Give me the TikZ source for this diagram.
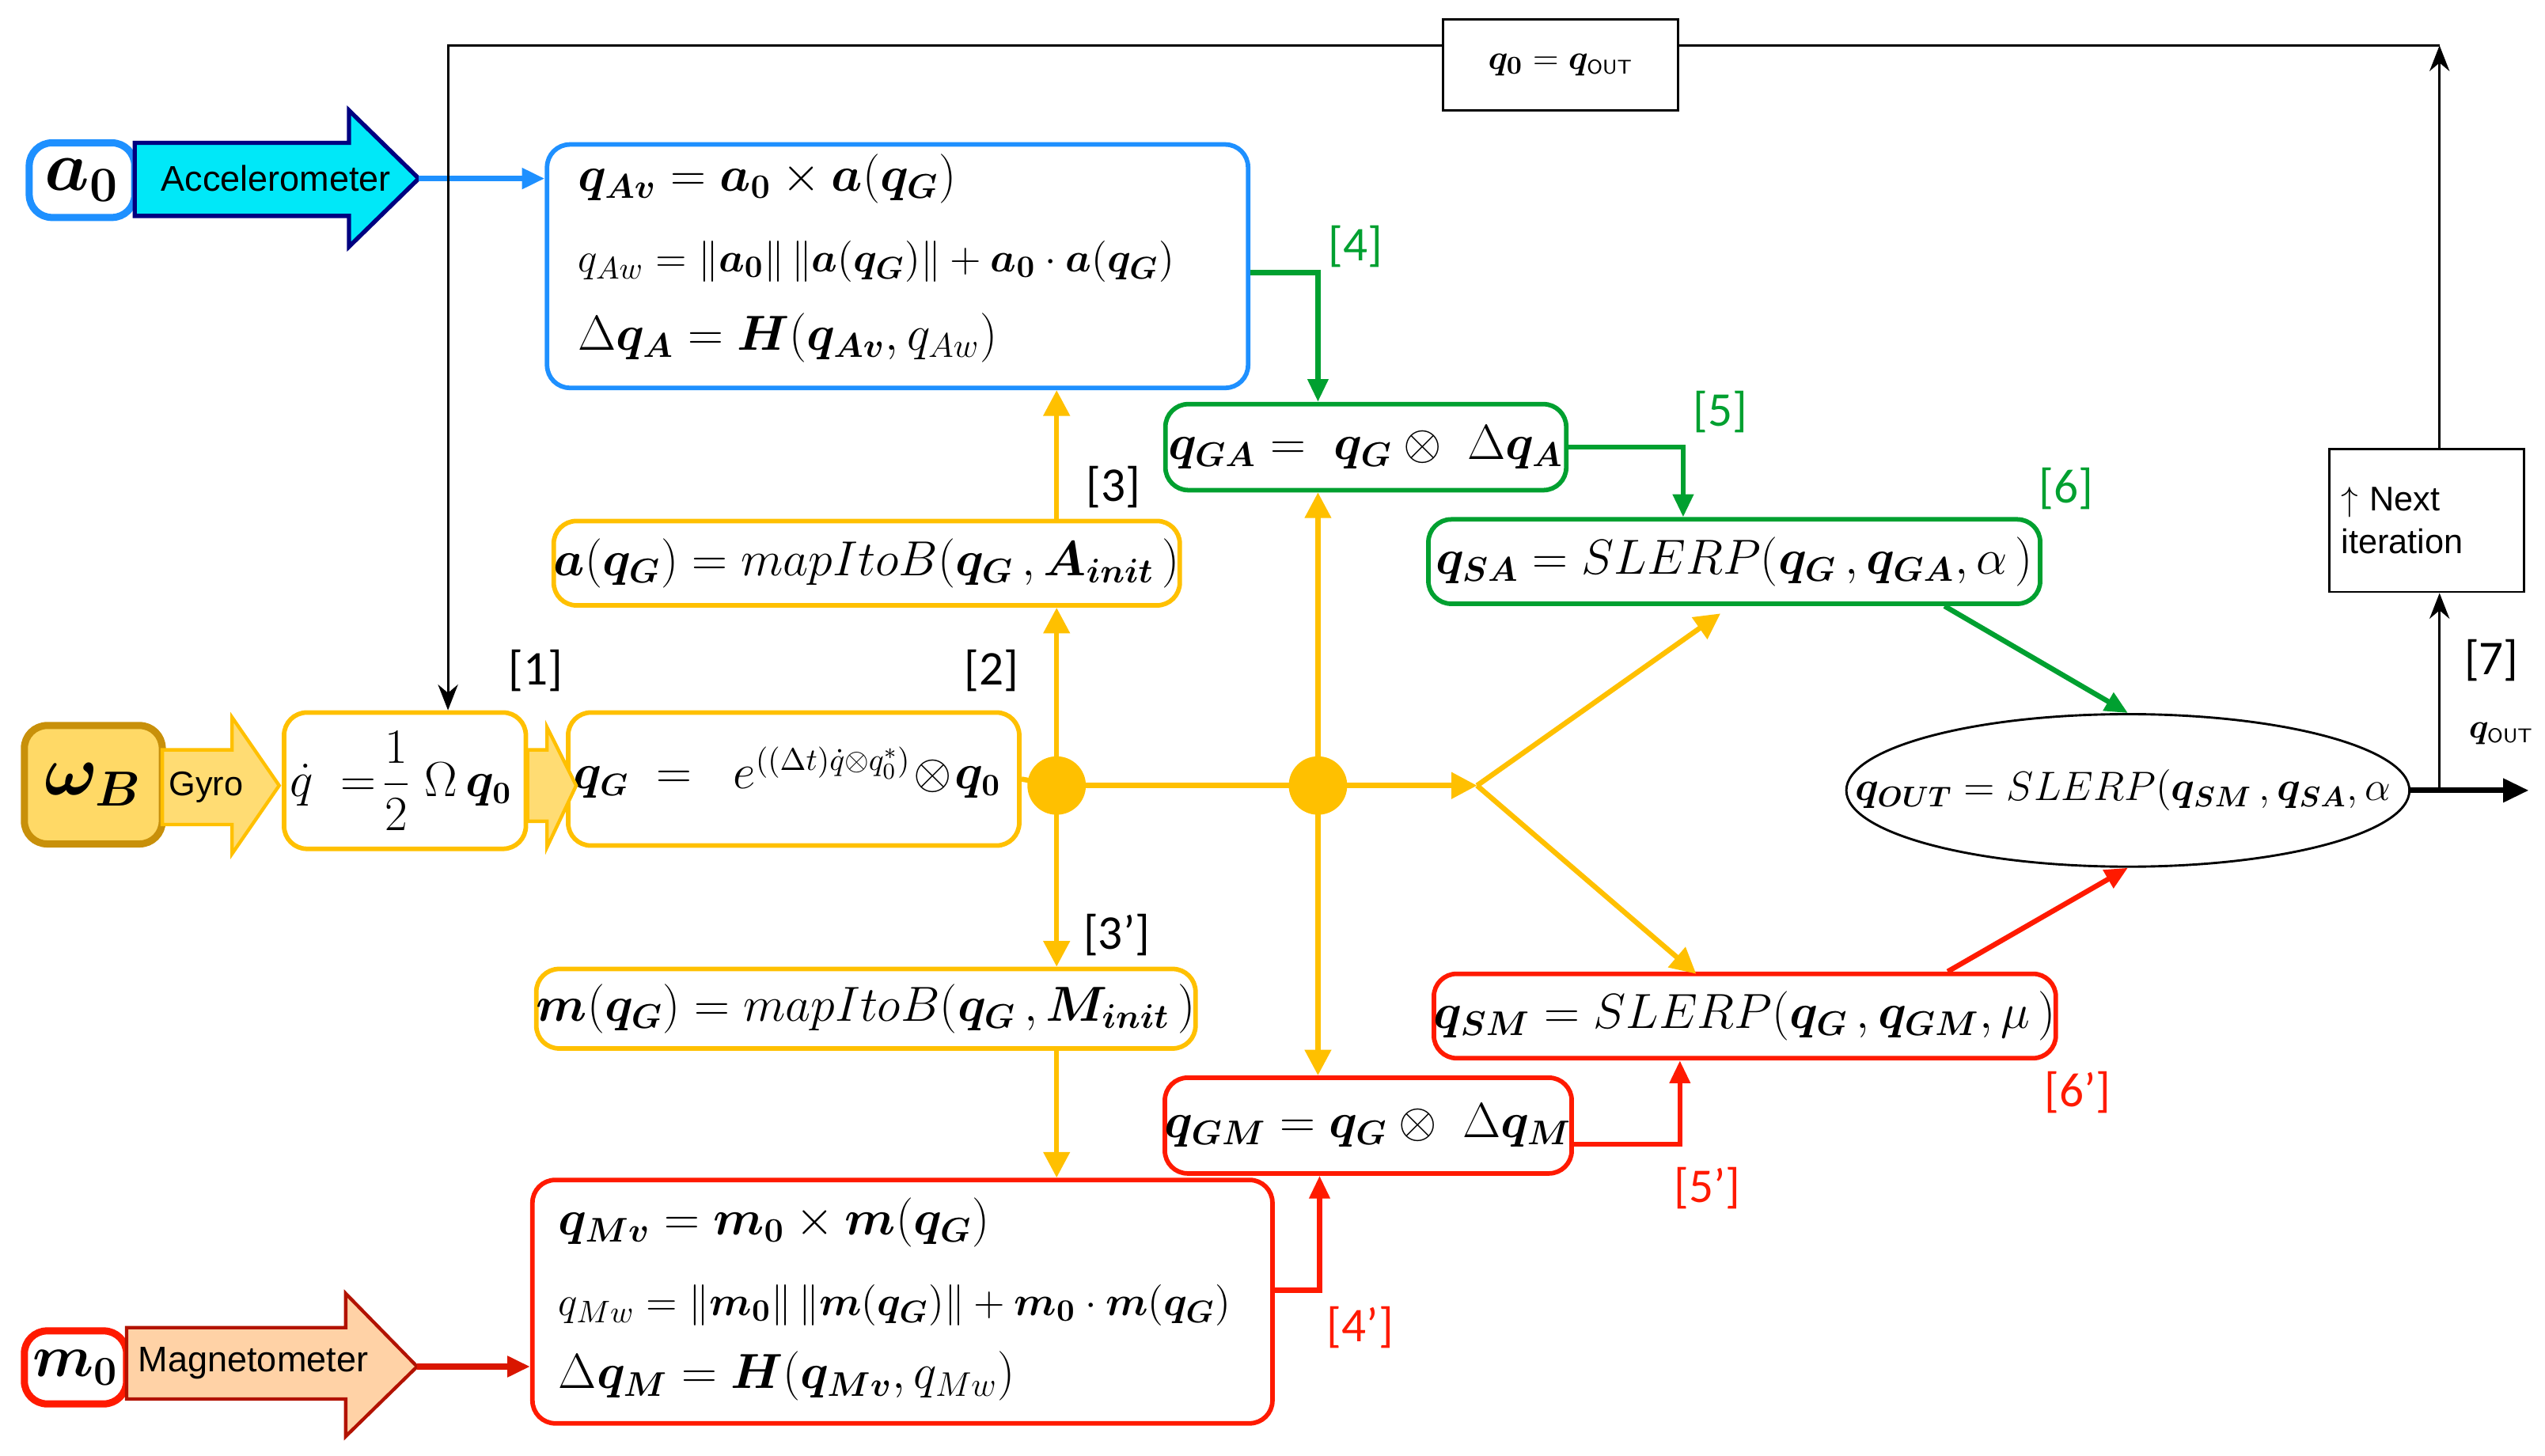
\documentclass[tikz,border=0pt]{standalone}
\usepackage{amsmath,bm}
\usepackage{fontspec}
\newfontfamily\lsans{Liberation Sans}
\newfontfamily\csans{Carlito}
\usetikzlibrary{arrows.meta,shapes.geometric}
\definecolor{cor}{HTML}{FFC000}
\definecolor{cbl}{HTML}{1E90FF}
\definecolor{cgr}{HTML}{00A030}
\definecolor{crd}{HTML}{FF1A00}
\definecolor{cgold}{HTML}{C8900A}
\definecolor{ccy}{HTML}{00E8F8}
\newcommand{\B}[1]{\boldsymbol{#1}}
\begin{document}
\begin{tikzpicture}[x=0.02cm,y=-0.02cm,
  eq/.style={font=\fontsize{17}{20}\selectfont},
  eqs/.style={font=\fontsize{15}{18}\selectfont},
  box/.style={draw,rounded corners=8pt,line width=1.6pt,inner sep=0pt},
  lab/.style={font=\csans\fontsize{17}{20}\selectfont},
  oar/.style={draw=cor,line width=1.8pt,-{Triangle[length=9pt,width=9pt]}},
  gar/.style={draw=cgr,line width=1.8pt,-{Triangle[length=8pt,width=7pt]}},
  rar/.style={draw=crd,line width=1.8pt,-{Triangle[length=8pt,width=7pt]}},
  kar/.style={draw=black,line width=0.8pt,-{Stealth[length=9pt,width=7pt]}}]
\useasboundingbox (0,0) rectangle (1568,897);
% boxes
\node[box,draw=cbl,minimum width=8.64cm,minimum height=3cm] (blue) at (553,164) {};
\node[eq,anchor=west] (b1) at (350,110) {$\B{q_{Av}} = \B{a_0}\times \B{a}(\B{q_G})$};
\node[eqs,anchor=west] (b2) at (350,161) {$q_{Aw} = \lVert \B{a_0}\rVert\,\lVert \B{a}(\B{q_G})\rVert + \B{a_0}\cdot \B{a}(\B{q_G})$};
\node[eq,anchor=west] (b3) at (350,208) {$\Delta\B{q_A} = \B{H}(\B{q_{Av}}, q_{Aw})$};
\node[box,draw=crd,minimum width=9.12cm,minimum height=3cm] (red) at (556,802) {};
\node[eq,anchor=west] (r1) at (338,753) {$\B{q_{Mv}} = \B{m_0}\times \B{m}(\B{q_G})$};
\node[eqs,anchor=west] (r2) at (338,804) {$q_{Mw} = \lVert \B{m_0}\rVert\,\lVert \B{m}(\B{q_G})\rVert + \B{m_0}\cdot \B{m}(\B{q_G})$};
\node[eq,anchor=west] (r3) at (338,848) {$\Delta\B{q_M} = \B{H}(\B{q_{Mv}}, q_{Mw})$};
\node[box,draw=cgr,minimum width=4.94cm,minimum height=1.06cm,eq] (qga) at (841.5,275.5) {$\B{q_{GA}} = \ \B{q_G}\otimes\ \Delta\B{q_A}$};
\node[box,draw=cgr,minimum width=7.54cm,minimum height=1.04cm,eq] (qsa) at (1068.5,346) {$\B{q_{SA}} = SLERP(\B{q_G}\,,\B{q_{GA}},\alpha\,)$};
\node[box,draw=crd,minimum width=7.36cm,minimum height=1.04cm,eq] (qsm) at (1075,626) {$\B{q_{SM}} = SLERP(\B{q_G}\,,\B{q_{GM}},\mu\,)$};
\node[box,draw=crd,minimum width=5cm,minimum height=1.18cm,eq] (qgm) at (843,693.5) {$\B{q_{GM}} = \B{q_G}\otimes\ \Delta\B{q_M}$};
\node[box,draw=cor,minimum width=7.56cm,minimum height=1.04cm,eq] (aqg) at (534,347) {$\B{a}(\B{q_G}) = mapItoB(\B{q_G}\,,\B{A_{init}}\,)$};
\node[box,draw=cor,minimum width=7.46cm,minimum height=0.98cm,eq] (mqg) at (533.5,621.5) {$\B{m}(\B{q_G}) = mapItoB(\B{q_G}\,,\B{M_{init}}\,)$};
\node[box,draw=cor,minimum width=2.98cm,minimum height=1.68cm] (qd) at (249.5,481) {};
\node[font=\fontsize{16}{19}\selectfont] (qdt) at (247,481) {$\dot{q}\ =\!\dfrac12\ \Omega\,\B{q_0}$};
\node[box,draw=cor,minimum width=5.56cm,minimum height=1.64cm] (qg) at (489,480) {};
\node[font=\fontsize{16}{19}\selectfont] (qgt) at (485,476) {$\B{q_G}\ =\ \ e^{((\Delta t)\dot q\otimes q_0^*)}\!\otimes\!\B{q_0}$};
\node[ellipse,draw,line width=0.8pt,minimum width=6.94cm,minimum height=1.88cm,inner sep=0pt] (out) at (1311,487) {};
\node[font=\fontsize{14}{17}\selectfont] (outt) at (1308,487) {$\B{q_{OUT}} = SLERP(\B{q_{SM}}\,,\B{q_{SA}},\alpha$};
\node[draw,line width=0.8pt,minimum width=2.9cm,minimum height=1.12cm,font=\lsans\fontsize{13}{15}\selectfont] (q0b) at (961.5,40) {$\B{q_0} = \B{q}_{\textsf{\scriptsize OUT}}$};
\node[draw,line width=0.8pt,minimum width=2.4cm,minimum height=1.76cm,font=\lsans\fontsize{12}{15}\selectfont,align=left,text width=2.1cm,anchor=north] (nxt) at (1495,276) {$\uparrow$ Next\\iteration\\[16pt]};
% inputs
\node[box,draw=cbl,line width=2.5pt,minimum width=1.3cm,minimum height=0.92cm,font=\fontsize{24}{26}\selectfont] (a0) at (50.5,111) {$\B{a_0}$};
\node[box,draw=crd,line width=2.5pt,minimum width=1.26cm,minimum height=0.9cm,font=\fontsize{22}{26}\selectfont] (m0) at (46.5,842.5) {$\B{m_0}$};
\node[box,draw=cgold,fill=cor!60,line width=2.5pt,minimum width=1.7cm,minimum height=1.46cm,font=\fontsize{24}{26}\selectfont] (wb) at (57.5,483.5) {$\B{\omega_B}$};
\draw[fill=ccy,draw=blue!50!black,line width=1.5pt] (83,88)--(215,88)--(215,68)--(258,110)--(215,152)--(215,133)--(83,133)--cycle;
\node[font=\lsans\fontsize{12.5}{15}\selectfont] (acc) at (170,110) {Accelerometer};
\draw[fill=orange!35,draw=crd!70!black,line width=1.2pt] (78,818)--(213,818)--(213,797)--(257,842)--(213,885)--(213,862)--(78,862)--cycle;
\node[font=\lsans\fontsize{12.5}{15}\selectfont] (mag) at (156,840) {Magnetometer};
\draw[fill=cor!55,draw=cor,line width=1.2pt] (100,462)--(143,462)--(143,442)--(172,484)--(143,526)--(143,508)--(100,508)--cycle;
\node[font=\lsans\fontsize{12}{14}\selectfont] (gy) at (127,485) {Gyro};
\draw[fill=cor!55,draw=cor,line width=1.2pt] (325,462)--(337,462)--(337,448)--(355,484)--(337,522)--(337,506)--(325,506)--cycle;
% coordinates
\coordinate (d1) at (651,484);
\coordinate (d2) at (812,484);
\coordinate (fk) at (910,484);
\fill[cor] (d1) circle (18);
\fill[cor] (d2) circle (18);
% orange connectors
\draw[draw=cor,line width=1.8pt] (qg.east) -- (d1);
\draw[oar] (d1) -- (fk);
\draw[oar] (d1) -- (aqg.south -| d1);
\draw[oar] (aqg.north -| d1) -- (blue.south -| d1);
\draw[oar] (d1) -- (mqg.north -| d1);
\draw[oar] (mqg.south -| d1) -- (red.north -| d1);
\draw[oar] (d2) -- (qga.south -| d2);
\draw[oar] (d2) -- (qgm.north -| d2);
\coordinate (u1) at (1060,378);
\coordinate (l1) at (1045,600);
\draw[oar] (fk) -- (u1);
\draw[oar] (fk) -- (l1);
% blue, green, red
\draw[draw=cbl,line width=2pt,-{Triangle[length=8pt,width=7pt]}] (258,110) -- (blue.west |- 0,110);
\draw[gar] (blue.east |- 0,168) -| (qga.north -| d2);
\draw[gar] (qga.east) -| (qsa.north -| 1037,0);
\draw[gar] (qsa.south -| 1198,0) -- (out.north);
\draw[rar] (qsm.north -| 1200,0) -- (out.south);
\draw[rar] (qgm.east |- 0,705) -| (qsm.south -| 1035,0);
\draw[rar] (red.east |- 0,795) -| (qgm.south -| 813,0);
\draw[draw=crd!85!black,line width=2pt,-{Triangle[length=8pt,width=7pt]}] (257,842) -- (red.west |- 0,842);
% black feedback
\coordinate (oe) at (1558,487);
\coordinate (tr) at (1503,28);
\coordinate (tl) at (276,28);
\draw[line width=2pt,-{Triangle[length=9pt,width=8pt]}] (out.east) -- (oe);
\draw[kar] (1503,487) -- (nxt.south -| 1503,0);
\draw[kar] (nxt.north -| 1503,0) -- (tr);
\draw[line width=0.8pt] (tr) -- (q0b.east |- tr);
\draw[kar] (q0b.west |- tl) -- (tl) -- (qd.north -| tl);
% labels
\node[lab] at (330,413) {[1]};
\node[lab] at (611,413) {[2]};
\node[lab] at (686,300) {[3]};
\node[lab] at (688,576) {[3’]};
\node[lab,text=cgr] at (835,152) {[4]};
\node[lab,text=cgr] at (1060,254) {[5]};
\node[lab,text=cgr] at (1273,301) {[6]};
\node[lab,text=crd] at (838,818) {[4’]};
\node[lab,text=crd] at (1052,732) {[5’]};
\node[lab,text=crd] at (1280,673) {[6’]};
\node[lab] at (1535,407) {[7]};
\node[font=\lsans\fontsize{13}{15}\selectfont] at (1541,452) {$\B{q}_{\textsf{\scriptsize OUT}}$};
\end{tikzpicture}
\end{document}
